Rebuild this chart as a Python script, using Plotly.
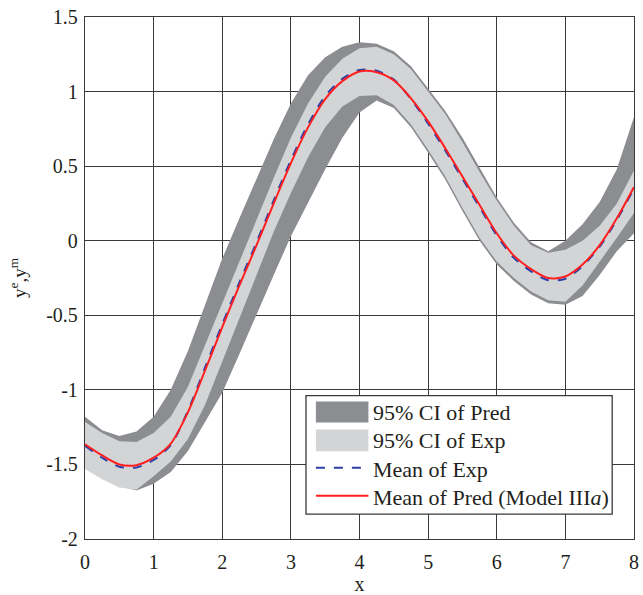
import plotly.graph_objects as go

# Sample positions along x
x = [0, 0.25, 0.5, 0.75, 1, 1.25, 1.5, 1.75, 2, 2.25, 2.5, 2.75, 3, 3.25, 3.5, 3.75,
     4, 4.25, 4.5, 4.75, 5, 5.25, 5.5, 5.75, 6, 6.25, 6.5, 6.75, 7, 7.25, 7.5, 7.75, 8]

# Mean of prediction (Model IIIa)
mean_pred = [-1.365, -1.44, -1.50, -1.505, -1.455, -1.36, -1.15, -0.87, -0.58, -0.30, -0.03,
             0.25, 0.52, 0.76, 0.95, 1.07, 1.135, 1.13, 1.075, 0.955, 0.80, 0.62, 0.43, 0.24,
             0.05, -0.10, -0.19, -0.25, -0.24, -0.16, -0.03, 0.15, 0.36]

# Mean of experiment
mean_exp = [-1.375, -1.455, -1.515, -1.52, -1.47, -1.37, -1.14, -0.85, -0.56, -0.28, -0.01,
            0.27, 0.54, 0.78, 0.97, 1.085, 1.145, 1.14, 1.08, 0.95, 0.785, 0.605, 0.415, 0.225,
            0.035, -0.115, -0.205, -0.265, -0.255, -0.17, -0.04, 0.14, 0.35]

# 95% CI of experiment (upper / lower)
exp_upper = [-1.215, -1.29, -1.345, -1.35, -1.29, -1.18, -0.98, -0.70, -0.41, -0.13, 0.14,
             0.42, 0.69, 0.92, 1.10, 1.22, 1.29, 1.30, 1.25, 1.15, 1.00, 0.85, 0.66, 0.46,
             0.27, 0.10, -0.03, -0.08, -0.06, 0.00, 0.10, 0.25, 0.47]
exp_lower = [-1.53, -1.60, -1.655, -1.67, -1.58, -1.48, -1.33, -1.10, -0.82, -0.52, -0.23,
             0.06, 0.32, 0.56, 0.76, 0.90, 0.97, 0.975, 0.91, 0.78, 0.61, 0.43, 0.22, 0.02,
             -0.14, -0.25, -0.34, -0.40, -0.41, -0.30, -0.14, 0.02, 0.185]

# 95% CI of prediction (upper / lower)
pred_upper = [-1.18, -1.27, -1.31, -1.28, -1.18, -1.00, -0.74, -0.43, -0.12, 0.15, 0.42,
              0.68, 0.92, 1.11, 1.23, 1.30, 1.33, 1.32, 1.27, 1.17, 1.02, 0.87, 0.69, 0.49,
              0.29, 0.12, -0.01, -0.07, 0.00, 0.11, 0.26, 0.48, 0.83]
pred_lower = [-1.50, -1.58, -1.645, -1.675, -1.63, -1.55, -1.41, -1.22, -1.02, -0.76, -0.50,
              -0.23, 0.03, 0.26, 0.48, 0.69, 0.86, 0.94, 0.89, 0.76, 0.59, 0.41, 0.20, 0.00,
              -0.16, -0.27, -0.36, -0.42, -0.43, -0.37, -0.23, -0.07, 0.05]

x_ticks = [0, 1, 2, 3, 4, 5, 6, 7, 8]
x_tick_text = ["0", "1", "2", "3", "4", "5", "6", "7", "8"]
y_ticks = [-2, -1.5, -1, -0.5, 0, 0.5, 1, 1.5]
y_tick_text = ["-2", "-1.5", "-1", "-0.5", "0", "0.5", "1", "1.5"]

legend_labels = ["95% CI of Pred", "95% CI of Exp", "Mean of Exp",
                 "Mean of Pred (Model III<i>a</i>)"]

DARK = "#8c8d91"
LIGHT = "#d3d4d6"
BLUE = "#2b3fa6"
RED = "#ff1f1f"
GRID = "#3a3a3a"
TEXT = "#231f20"
FONT = "Liberation Serif"

fig = go.Figure()

fig.add_trace(go.Scatter(x=x + x[::-1], y=pred_upper + pred_lower[::-1], mode="lines",
                         fill="toself", fillcolor=DARK, line=dict(width=0),
                         hoverinfo="skip", showlegend=False))
fig.add_trace(go.Scatter(x=x + x[::-1], y=exp_upper + exp_lower[::-1], mode="lines",
                         fill="toself", fillcolor=LIGHT, line=dict(width=0),
                         hoverinfo="skip", showlegend=False))
fig.add_trace(go.Scatter(x=x, y=mean_exp, mode="lines",
                         line=dict(color=BLUE, width=2, dash="dash", shape="spline",
                                   smoothing=0.8),
                         showlegend=False))
fig.add_trace(go.Scatter(x=x, y=mean_pred, mode="lines",
                         line=dict(color=RED, width=2, shape="spline", smoothing=0.8),
                         showlegend=False))

# Hand-built legend box (pixel positions converted to paper coordinates)
L, R, T, B = 85, 639, 17, 541


def px(v):
    return (v - L) / (R - L)


def py(v):
    return (B - v) / (B - T)


shapes = [
    dict(type="rect", xref="paper", yref="paper", x0=px(308), x1=px(617), y0=py(516), y1=py(397),
         fillcolor="white", line=dict(color=GRID, width=1.3), layer="above"),
    dict(type="rect", xref="paper", yref="paper", x0=px(318), x1=px(371), y0=py(424), y1=py(403),
         fillcolor=DARK, line=dict(width=0), layer="above"),
    dict(type="rect", xref="paper", yref="paper", x0=px(318), x1=px(371), y0=py(453), y1=py(431),
         fillcolor=LIGHT, line=dict(width=0), layer="above"),
    dict(type="line", xref="paper", yref="paper", x0=px(318), x1=px(371), y0=py(469.5), y1=py(469.5),
         line=dict(color=BLUE, width=2, dash="dash"), layer="above"),
    dict(type="line", xref="paper", yref="paper", x0=px(318), x1=px(371), y0=py(497.5), y1=py(497.5),
         line=dict(color=RED, width=2), layer="above"),
]
row_y = [414, 442, 471, 499]
annotations = [
    dict(xref="paper", yref="paper", x=px(374), y=py(yy), text=t, showarrow=False,
         xanchor="left", yanchor="middle", font=dict(family=FONT, size=22, color=TEXT))
    for t, yy in zip(legend_labels, row_y)
]

fig.update_layout(
    width=643, height=595,
    margin=dict(l=L, r=643 - R, t=T, b=595 - B),
    paper_bgcolor="white", plot_bgcolor="white",
    font=dict(family=FONT, size=20, color=TEXT),
    shapes=shapes, annotations=annotations,
    showlegend=False,
)
fig.update_xaxes(range=[0, 8], tickvals=x_ticks, ticktext=x_tick_text,
                 showgrid=True, gridcolor=GRID, gridwidth=1.3,
                 showline=True, linecolor=GRID, linewidth=1.3, mirror=True,
                 zeroline=False, ticks="", ticklabelstandoff=5,
                 tickfont=dict(family=FONT, size=20, color=TEXT),
                 title=dict(text="x", font=dict(family=FONT, size=20, color=TEXT), standoff=4))
fig.update_yaxes(range=[-2, 1.5], tickvals=y_ticks, ticktext=y_tick_text,
                 showgrid=True, gridcolor=GRID, gridwidth=1.3,
                 showline=True, linecolor=GRID, linewidth=1.3, mirror=True,
                 zeroline=False, ticks="", ticklabelstandoff=2,
                 tickfont=dict(family=FONT, size=20, color=TEXT),
                 title=dict(text="y<sup>e</sup>,y<sup>m</sup>",
                            font=dict(family=FONT, size=19, color=TEXT), standoff=14))

fig.write_html("out.html")
